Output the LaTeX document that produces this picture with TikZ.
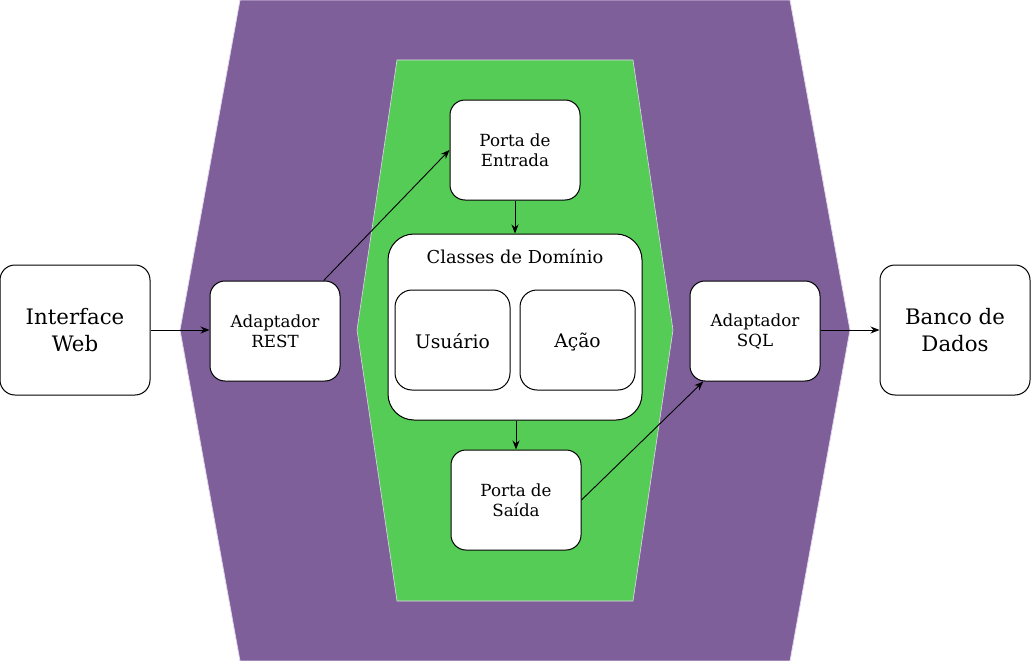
\documentclass[tikz,border=0pt]{standalone}
\usepackage{fontspec}
\setmainfont{DejaVu Serif}
\usetikzlibrary{arrows.meta}
\definecolor{hexpurple}{HTML}{7E5F9A}
\definecolor{hexgreen}{HTML}{55CC56}
\definecolor{hexedge}{HTML}{E4D6EC}
\newcommand{\lowertext}[1]{\raisebox{-2.5pt}[\height][\depth]{#1}}
\begin{document}
\begin{tikzpicture}[x=1pt,y=-1pt,
  box/.style={draw=black,fill=white,line width=1pt,rounded corners=15pt,inner sep=0pt,align=center,
    minimum width=130pt,minimum height=100pt,font=\fontsize{16.7}{20}\selectfont},
  bigbox/.style={box,minimum width=150pt,minimum height=130pt,font=\fontsize{21.3}{27}\selectfont},
  inner/.style={box,rounded corners=17pt,minimum width=115pt,minimum height=100pt,font=\fontsize{18.7}{22}\selectfont},
  conn/.style={draw=black,line width=0.9pt,-{Stealth[length=9pt,width=7pt]}}]
\useasboundingbox (0,0) rectangle (1031,661);
% outer hexagon
\fill[hexpurple,draw=hexedge,line width=0.8pt] (240,0) -- (790,0) -- (850,330) -- (790,661) -- (240,661) -- (180,330) -- cycle;
% inner hexagon
\fill[hexgreen,draw=hexedge,line width=0.6pt] (397,60) -- (633,60) -- (673,330) -- (633,601) -- (397,601) -- (357,330) -- cycle;
% nodes
\node[bigbox] (web) at (75,330) {Interface\\Web};
\node[box] (rest) at (275,331) {Adaptador\\REST};
\node[box] (entrada) at (515,150) {Porta de\\Entrada};
\node[box,rounded corners=26pt,minimum width=254pt,minimum height=186pt] (classes) at (515,327) {};
\node[font=\fontsize{17.8}{20}\selectfont,inner sep=0pt] (classlabel) at (515,257) {Classes de Domínio};
\node[inner] (usuario) at (452.5,340) {\lowertext{\vphantom{ç}Usuário}};
\node[inner] (acao) at (577.5,340) {\lowertext{Ação}};
\node[box] (saida) at (516,500) {Porta de\\Saída};
\node[box] (sql) at (755,331) {Adaptador\\SQL};
\node[bigbox] (banco) at (955,330) {Banco de\\Dados};
% connectors
\draw[conn] (web) -- (rest.west |- web);
\draw[conn] (rest) -- (entrada.west);
\draw[conn] (entrada) -- (classes.north -| entrada);
\draw[conn] (classes.south -| saida) -- (saida);
\draw[conn] (saida.east) -- (sql);
\draw[conn] (sql.east |- banco) -- (banco);
\end{tikzpicture}
\end{document}
